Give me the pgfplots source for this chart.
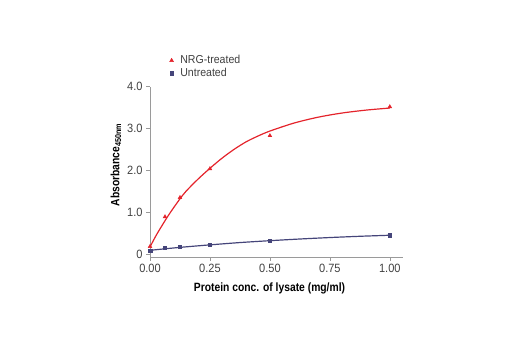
\documentclass[border=0pt]{standalone}
\usepackage{fontspec}
\setmainfont{Liberation Sans}
\newfontfamily\condbold{Liberation Sans}[FakeStretch=0.86,BoldFont={* Bold}]
\newfontfamily\condreg{Liberation Sans}[FakeStretch=0.92]
\usepackage{pgfplots}
\pgfplotsset{compat=1.18}
\definecolor{nrgred}{HTML}{E4232B}
\definecolor{untblue}{HTML}{45457A}
\definecolor{axgray}{HTML}{9A9A9A}
\definecolor{txtgray}{HTML}{404040}
\begin{document}
\begin{tikzpicture}
\path[use as bounding box] (0,0) rectangle (520bp,350bp);
\begin{axis}[
  at={(150bp,93bp)}, anchor=south west,
  scale only axis, width=253bp, height=170.3bp,
  xmin=0, xmax=1.055, ymin=-0.07, ymax=4.0,
  axis lines*=left,
  axis line style={axgray, line width=0.6pt},
  tick style={axgray, line width=0.6pt},
  tick align=outside, major tick length=4bp,
  xtick={0,0.25,0.5,0.75,1}, xticklabels={0.00,0.25,0.50,0.75,1.00},
  ytick={0,1,2,3,4}, yticklabels={0,1.0,2.0,3.0,4.0},
  tick label style={font=\fontsize{12bp}{14bp}\condreg, text=txtgray},
  xlabel={\condbold\bfseries Protein conc. of lysate (mg/ml)},
  ylabel={\condbold\bfseries Absorbance\textsubscript{450nm}},
  label style={font=\fontsize{12bp}{14bp}\selectfont, text=black},
  xlabel style={xshift=-7bp, yshift=-3bp},
  ylabel style={yshift=-1bp, xshift=7bp},
  legend image code/.code={\draw[#1] plot coordinates {(4bp,0bp)}; \path (0bp,0bp) (11.5bp,0bp);},
  legend style={draw=none, fill=none, at={(rel axis cs:0.068,1.19)}, anchor=north west,
    font=\fontsize{11.5bp}{13bp}\condreg, text=txtgray, row sep=1bp, inner sep=0pt,
    nodes={inner sep=1bp}},
  legend cell align=left,
  clip=false,
]
\addplot[nrgred, line width=1.2pt, smooth, forget plot] coordinates {
 (0,0.17) (0.025,0.44) (0.05,0.68) (0.075,0.91) (0.1,1.12) (0.125,1.32) (0.15,1.50)
 (0.2,1.79) (0.25,2.05) (0.3,2.29) (0.35,2.50) (0.4,2.68) (0.45,2.82) (0.5,2.94)
 (0.6,3.13) (0.7,3.27) (0.8,3.37) (0.9,3.44) (1.0,3.49)};
\addplot[untblue, line width=1.2pt, smooth, forget plot] coordinates {
 (0,0.09) (0.125,0.16) (0.25,0.22) (0.375,0.275) (0.5,0.32) (0.625,0.36) (0.75,0.395) (0.875,0.425) (1.0,0.45)};
\addplot[only marks, mark=triangle*, mark size=2.2bp, color=nrgred] coordinates {
 (0,0.18) (0.0625,0.89) (0.125,1.35) (0.25,2.04) (0.5,2.83) (1.0,3.52)};
\addlegendentry{NRG-treated}
\addplot[only marks, mark=square*, mark size=1.7bp, color=untblue] coordinates {
 (0,0.08) (0.0625,0.15) (0.125,0.18) (0.25,0.23) (0.5,0.32) (1.0,0.45)};
\addlegendentry{Untreated}
\end{axis}
\end{tikzpicture}
\end{document}
